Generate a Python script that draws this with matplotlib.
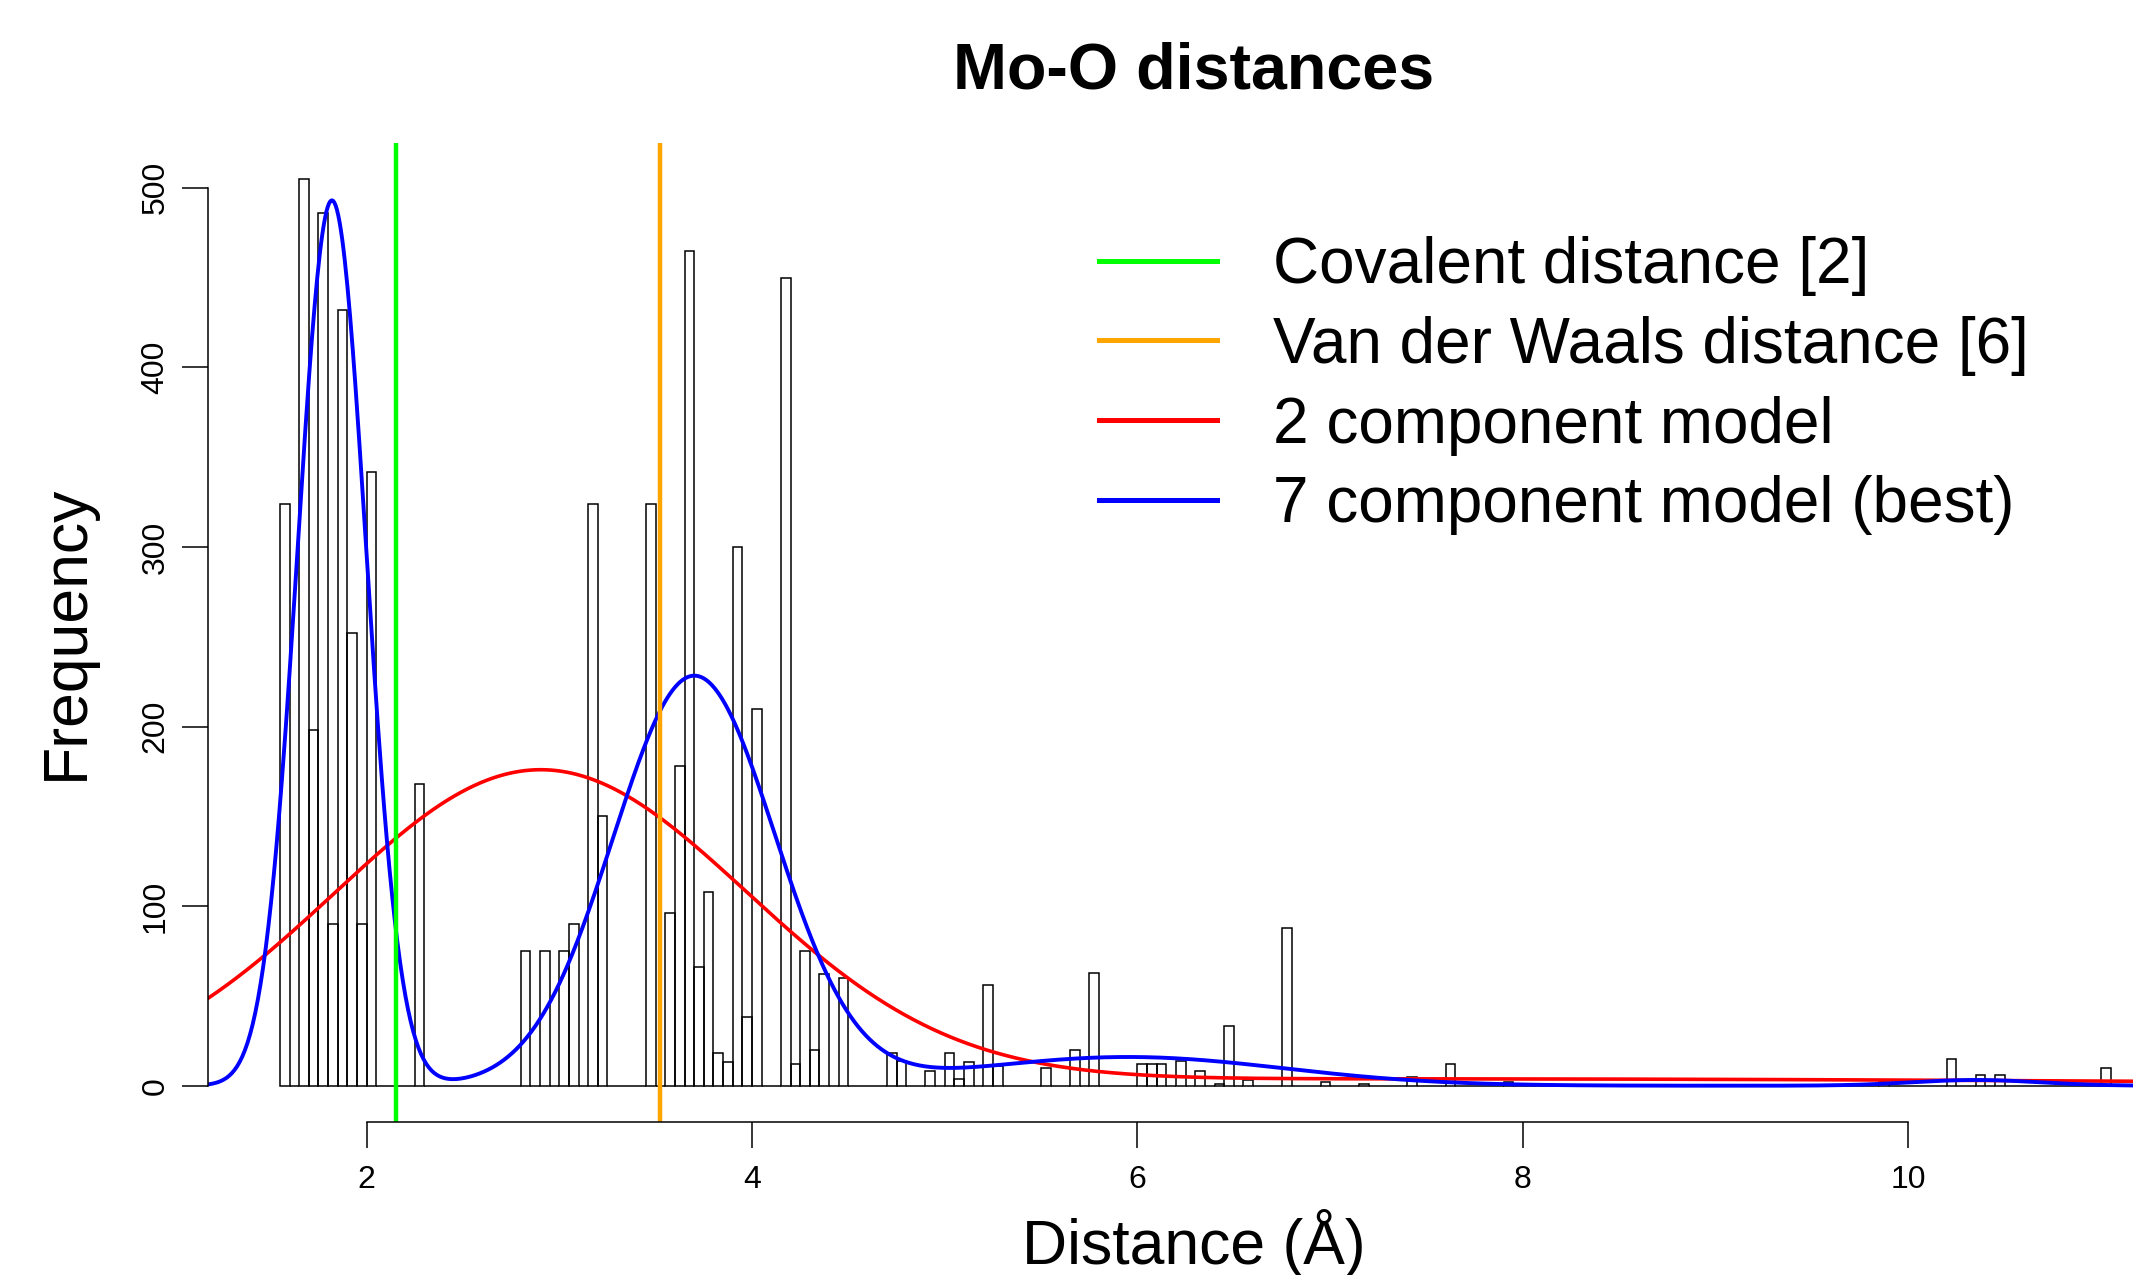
import numpy as np
import matplotlib
matplotlib.use("Agg")
import matplotlib.pyplot as plt
from matplotlib.lines import Line2D

plt.rcParams['font.family'] = ['Liberation Sans', 'DejaVu Sans']

# histogram: left edge of each non-empty 0.05 A bin and its count
bin_width = 0.05
bin_starts = [1.55, 1.65, 1.70, 1.75, 1.80, 1.85, 1.90, 1.95, 2.00, 2.25,
              2.80, 2.90, 3.00, 3.05, 3.15, 3.20, 3.45, 3.55, 3.60, 3.65,
              3.70, 3.75, 3.80, 3.85, 3.90, 3.95, 4.00, 4.15, 4.20, 4.25,
              4.30, 4.35, 4.45, 4.70, 4.75, 4.90, 5.00, 5.05, 5.10, 5.20,
              5.25, 5.50, 5.65, 5.75, 6.00, 6.05, 6.10, 6.20, 6.30, 6.40,
              6.45, 6.55, 6.75, 6.95, 7.15, 7.40, 7.60, 7.90, 9.85, 10.20,
              10.35, 10.45, 11.00]
counts = [324, 505, 198, 486, 90, 432, 252, 90, 342, 168,
          75, 75, 75, 90, 324, 150, 324, 96, 178, 465,
          66, 108, 18, 13, 300, 38, 210, 450, 12, 75,
          20, 62, 60, 18, 14, 8, 18, 4, 13, 56,
          11, 10, 20, 63, 12, 12, 12, 14, 8, 1,
          33, 3, 88, 2, 1, 5, 12, 2, 2, 15,
          6, 6, 10]

# reference distances
covalent = 2.15
vdw = 3.52

# mixture models (component mean, sd, peak height in counts)
red_means = [2.90, 7.5]
red_sds = [1.07, 4.0]
red_peaks = [174, 3.8]

blue_means = [1.82, 3.70, 5.95, 10.35]
blue_sds = [0.178, 0.42, 0.81, 0.33]
blue_peaks = [493, 228, 16, 3.2]

legend_labels = ["Covalent distance [2]", "Van der Waals distance [6]",
                 "2 component model", "7 component model (best)"]


def mixture(x, means, sds, peaks):
    y = np.zeros_like(x)
    for m, s, p in zip(means, sds, peaks):
        y += p * np.exp(-0.5 * ((x - m) / s) ** 2)
    return y


W, H = 2133, 1275
fig = plt.figure(figsize=(W / 100, H / 100), dpi=100)
ax = fig.add_axes([208 / W, 1 - 1122 / H, (2180 - 208) / W, (1122 - 142.5) / H])

# every bin, empty ones too, like R's hist()
n_bins = int(round((bin_starts[-1] - bin_starts[0]) / bin_width)) + 1
all_starts = np.round(bin_starts[0] + bin_width * np.arange(n_bins), 2)
heights = np.zeros(n_bins)
for b, c in zip(bin_starts, counts):
    heights[int(round((b - bin_starts[0]) / bin_width))] = c
ax.bar(all_starts, heights, width=bin_width, align='edge', fill=False,
       edgecolor='black', linewidth=1.1)

ax.set_xlim(1.177, 11.41)
ax.set_ylim(-20.2, 525.2)

xs = np.linspace(1.177, 11.41, 1500)
ax.plot(xs, mixture(xs, red_means, red_sds, red_peaks), color='#FF0000', lw=2.6)
ax.plot(xs, mixture(xs, blue_means, blue_sds, blue_peaks), color='#0000FF', lw=2.8)
ax.axvline(covalent, color='#00FF00', lw=3.2)
ax.axvline(vdw, color='#FFA500', lw=3.2)

for s in ['top', 'right']:
    ax.spines[s].set_visible(False)
ax.spines['left'].set_bounds(0, 500)
ax.spines['bottom'].set_bounds(2, 10)
ax.spines['left'].set_linewidth(1.1)
ax.spines['bottom'].set_linewidth(1.1)
ax.set_xticks([2, 4, 6, 8, 10])
ax.set_yticks([0, 100, 200, 300, 400, 500])
ax.tick_params(length=19, width=1.1, labelsize=23)
ax.tick_params(axis='x', pad=12)
ax.tick_params(axis='y', pad=8, labelrotation=90)
for lab in ax.get_yticklabels():
    lab.set_va('center')

ax.set_title("Mo-O distances", fontsize=46.5, fontweight='bold', pad=39)
ax.set_xlabel("Distance (Å)", fontsize=45, labelpad=10)
ax.set_ylabel("Frequency", fontsize=45, labelpad=32)

handles = [Line2D([], [], color=c, lw=3.6) for c in ['#00FF00', '#FFA500', '#FF0000', '#0000FF']]
ax.legend(handles, legend_labels, loc='upper left', bbox_to_anchor=(1099 / W, 1 - 236 / H),
          bbox_transform=fig.transFigure, frameon=False, fontsize=46,
          handlelength=1.85, handletextpad=0.87, labelspacing=0.31,
          borderpad=0, borderaxespad=0)

fig.savefig("out.png", dpi=100)
